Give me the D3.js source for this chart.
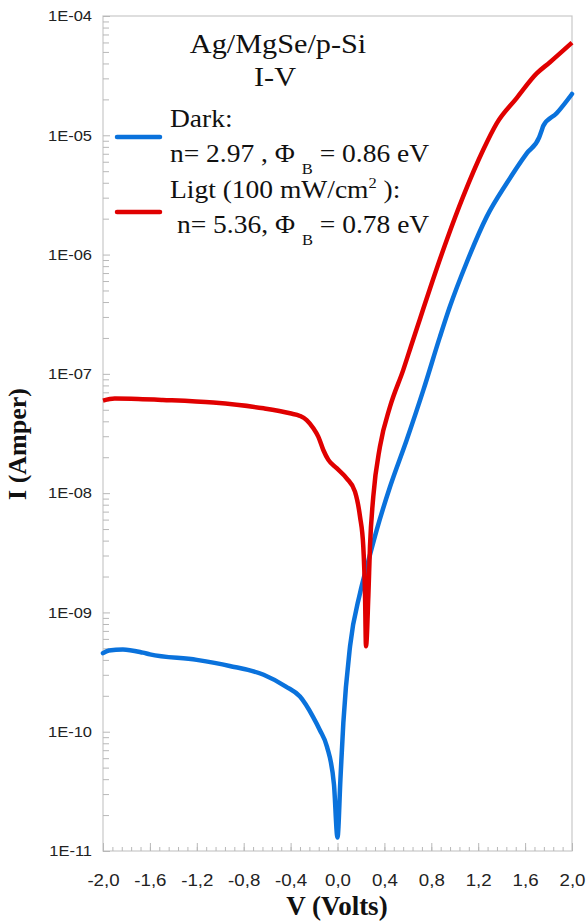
<!DOCTYPE html>
<meta charset="utf-8">
<style>
body { margin: 0; background: #fff; }
.tick text { font-family: "Liberation Sans", Arial, sans-serif; fill: #222; }
.serif { font-family: "Liberation Serif", "Times New Roman", serif; fill: #111; }
</style>
<body>
<script src="https://d3js.org/d3.v7.min.js"></script>
<script>

// dark curve (blue) : V in volts, I in amperes
var darkV = [-2.00, -1.95, -1.83, -1.66, -1.60, -1.20, -0.92, -0.63, -0.44, -0.32, -0.21, -0.15, -0.09, -0.03, 0.00,
             0.025, 0.05, 0.107, 0.192, 0.263, 0.334, 0.448, 0.59, 0.732, 0.874, 0.96, 1.10, 1.273, 1.443,
             1.614, 1.72, 1.742, 1.755, 1.869, 2.00];
var darkI = [4.55e-10, 4.8e-10, 4.9e-10, 4.6e-10, 4.45e-10, 4.0e-10, 3.56e-10, 3.0e-10, 2.39e-10, 1.97e-10, 1.34e-10, 1.03e-10, 7.5e-11, 3.6e-11, 1.3e-11,
             4.0e-11, 1.2e-10, 5.2e-10, 1.45e-9, 2.7e-9, 4.9e-9, 1.13e-8, 2.79e-8, 7.3e-8, 2.05e-7, 3.7e-7, 8.5e-7, 2.08e-6, 3.96e-6,
             7.06e-6, 9.6e-6, 1.1e-5, 1.2e-5, 1.53e-5, 2.22e-5];

// light curve (red)
var lightV = [-2.00, -1.90, -1.70, -1.49, -1.06, -0.63, -0.405, -0.32, -0.263, -0.206, -0.164, -0.121, -0.078, -0.007,
              0.078, 0.149, 0.192, 0.22, 0.235, 0.243, 0.263, 0.277, 0.305, 0.362, 0.448, 0.561, 0.633, 0.704,
              0.789, 0.931, 1.073, 1.244, 1.358, 1.528, 1.699, 1.812, 2.00];
var lightI = [5.96e-8, 6.2e-8, 6.15e-8, 6.04e-8, 5.74e-8, 5.14e-8, 4.67e-8, 4.44e-8, 4.1e-8, 3.5e-8, 2.98e-8, 2.3e-8, 1.9e-8, 1.62e-8,
              1.33e-8, 1.03e-8, 6.35e-9, 3.56e-9, 1.36e-9, 5.2e-10, 1.36e-9, 3.56e-9, 9.3e-9, 2.45e-8, 5.3e-8, 1.08e-7, 1.78e-7, 2.9e-7,
              5.2e-7, 1.32e-6, 3.09e-6, 7.6e-6, 1.26e-5, 2.05e-5, 3.3e-5, 4.1e-5, 5.98e-5];

var xTickValues = [-2.0, -1.6, -1.2, -0.8, -0.4, 0.0, 0.4, 0.8, 1.2, 1.6, 2.0];
var xTickLabels = ["-2,0", "-1,6", "-1,2", "-0,8", "-0,4", "0,0", "0,4", "0,8", "1,2", "1,6", "2,0"];
var yTickValues = [1e-11, 1e-10, 1e-9, 1e-8, 1e-7, 1e-6, 1e-5, 1e-4];
var yTickLabels = ["1E-11", "1E-10", "1E-09", "1E-08", "1E-07", "1E-06", "1E-05", "1E-04"];

var seriesNames = ["Dark:", "Ligt (100 mW/cm"];
var darkColor = "#0a72dc", lightColor = "#e00000";

// plot box
var plotL = 103, plotR = 572, plotT = 16, plotB = 851;
var sx = 1.1; // horizontal stretch of the original picture's text

var svg = d3.select("body").append("svg")
    .attr("width", 588)
    .attr("height", 921)
    .style("display", "block");

svg.append("rect").attr("width", 588).attr("height", 921).attr("fill", "#fff");

var x = d3.scaleLinear().domain([-2, 2]).range([plotL, plotR]);
var y = d3.scaleLog().domain([1e-11, 1e-4]).range([plotB, plotT]);

// frame
svg.append("rect")
    .attr("x", plotL).attr("y", plotT)
    .attr("width", plotR - plotL).attr("height", plotB - plotT)
    .attr("fill", "none").attr("stroke", "#c8c8c8").attr("stroke-width", 1.2);

// minor y ticks (2..9 per decade)
var yMinor = [];
yTickValues.slice(0, -1).forEach(function(d) {
  for (var k = 2; k <= 9; k++) yMinor.push(d * k);
});
svg.append("g")
    .attr("transform", "translate(" + plotL + ",0)")
    .call(d3.axisLeft(y).tickValues(yMinor).tickSize(-6).tickFormat(""))
    .call(function(g) { g.select(".domain").remove(); })
    .selectAll("line").attr("stroke", "#b8b8b8");

// major y ticks
var yAxis = svg.append("g")
    .attr("transform", "translate(" + plotL + ",0)")
    .call(d3.axisLeft(y).tickValues(yTickValues).tickSize(-7).tickPadding(10)
      .tickFormat(function(d, i) { return yTickLabels[i]; }));
yAxis.select(".domain").remove();
yAxis.selectAll("line").attr("stroke", "#b8b8b8");
yAxis.selectAll("text").attr("font-size", 15).attr("transform", "scale(" + sx + ",1)");

// minor x ticks
var xMinor = d3.range(0, 51).map(function(i) { return -2 + i * 0.08; });
svg.append("g")
    .attr("transform", "translate(0," + plotB + ")")
    .call(d3.axisBottom(x).tickValues(xMinor).tickSize(-4).tickFormat(""))
    .call(function(g) { g.select(".domain").remove(); })
    .selectAll("line").attr("stroke", "#b8b8b8");

var xAxis = svg.append("g")
    .attr("transform", "translate(0," + plotB + ")")
    .call(d3.axisBottom(x).tickValues(xTickValues).tickSize(-8).tickPadding(23)
      .tickFormat(function(d, i) { return xTickLabels[i]; }));
xAxis.select(".domain").remove();
xAxis.selectAll("line").attr("stroke", "#b8b8b8");
xAxis.selectAll("text").attr("font-size", 17).attr("transform", "scale(" + sx + ",1)");

// curves
var line = d3.line()
    .x(function(d) { return x(d[0]); })
    .y(function(d) { return y(d[1]); })
    .curve(d3.curveMonotoneX);

var dark = darkV.map(function(v, i) { return [v, darkI[i]]; });
var light = lightV.map(function(v, i) { return [v, lightI[i]]; });

svg.append("path").datum(dark)
    .attr("d", line).attr("fill", "none")
    .attr("stroke", darkColor).attr("stroke-width", 4.5)
    .attr("stroke-linejoin", "round").attr("stroke-linecap", "round");

svg.append("path").datum(light)
    .attr("d", line).attr("fill", "none")
    .attr("stroke", lightColor).attr("stroke-width", 4.5)
    .attr("stroke-linejoin", "round").attr("stroke-linecap", "butt");

// text helper
function label(tx, ty, size, anchor) {
  return svg.append("text").attr("class", "serif")
      .attr("transform", "translate(" + tx + "," + ty + ") scale(" + sx + ",1)")
      .attr("font-size", size)
      .attr("text-anchor", anchor || "start");
}

// title
label(278, 53, 27.5, "middle").text("Ag/MgSe/p-Si");
label(275, 86, 27.5, "middle").text("I-V");

// legend
svg.append("line").attr("x1", 117).attr("x2", 160).attr("y1", 137).attr("y2", 137)
    .attr("stroke", darkColor).attr("stroke-width", 4.5).attr("stroke-linecap", "round");
svg.append("line").attr("x1", 117).attr("x2", 160).attr("y1", 212).attr("y2", 212)
    .attr("stroke", lightColor).attr("stroke-width", 4.5).attr("stroke-linecap", "round");

label(170, 127, 25).text(seriesNames[0]);
var t1 = label(170, 162, 25);
t1.append("tspan").text("n= 2.97 , \u03A6 ");
t1.append("tspan").attr("font-size", 15).attr("dy", 12).text("B");
t1.append("tspan").attr("dy", -12).text(" = 0.86 eV");

var t2 = label(170, 198, 25);
t2.append("tspan").text(seriesNames[1]);
t2.append("tspan").attr("font-size", 15).attr("dy", -10).text("2");
t2.append("tspan").attr("dy", 10).text(" ):");

var t3 = label(177, 233, 25);
t3.append("tspan").text("n= 5.36, \u03A6 ");
t3.append("tspan").attr("font-size", 15).attr("dy", 12).text("B");
t3.append("tspan").attr("dy", -12).text(" = 0.78 eV");

// axis titles
svg.append("text").attr("class", "serif")
    .attr("x", 337).attr("y", 915)
    .attr("text-anchor", "middle").attr("font-size", 27).attr("font-weight", "bold")
    .text("V (Volts)");

svg.append("text").attr("class", "serif")
    .attr("transform", "translate(26,444) rotate(-90)")
    .attr("text-anchor", "middle").attr("font-size", 26).attr("font-weight", "bold")
    .text("I (Amper)");

</script>
</body>
